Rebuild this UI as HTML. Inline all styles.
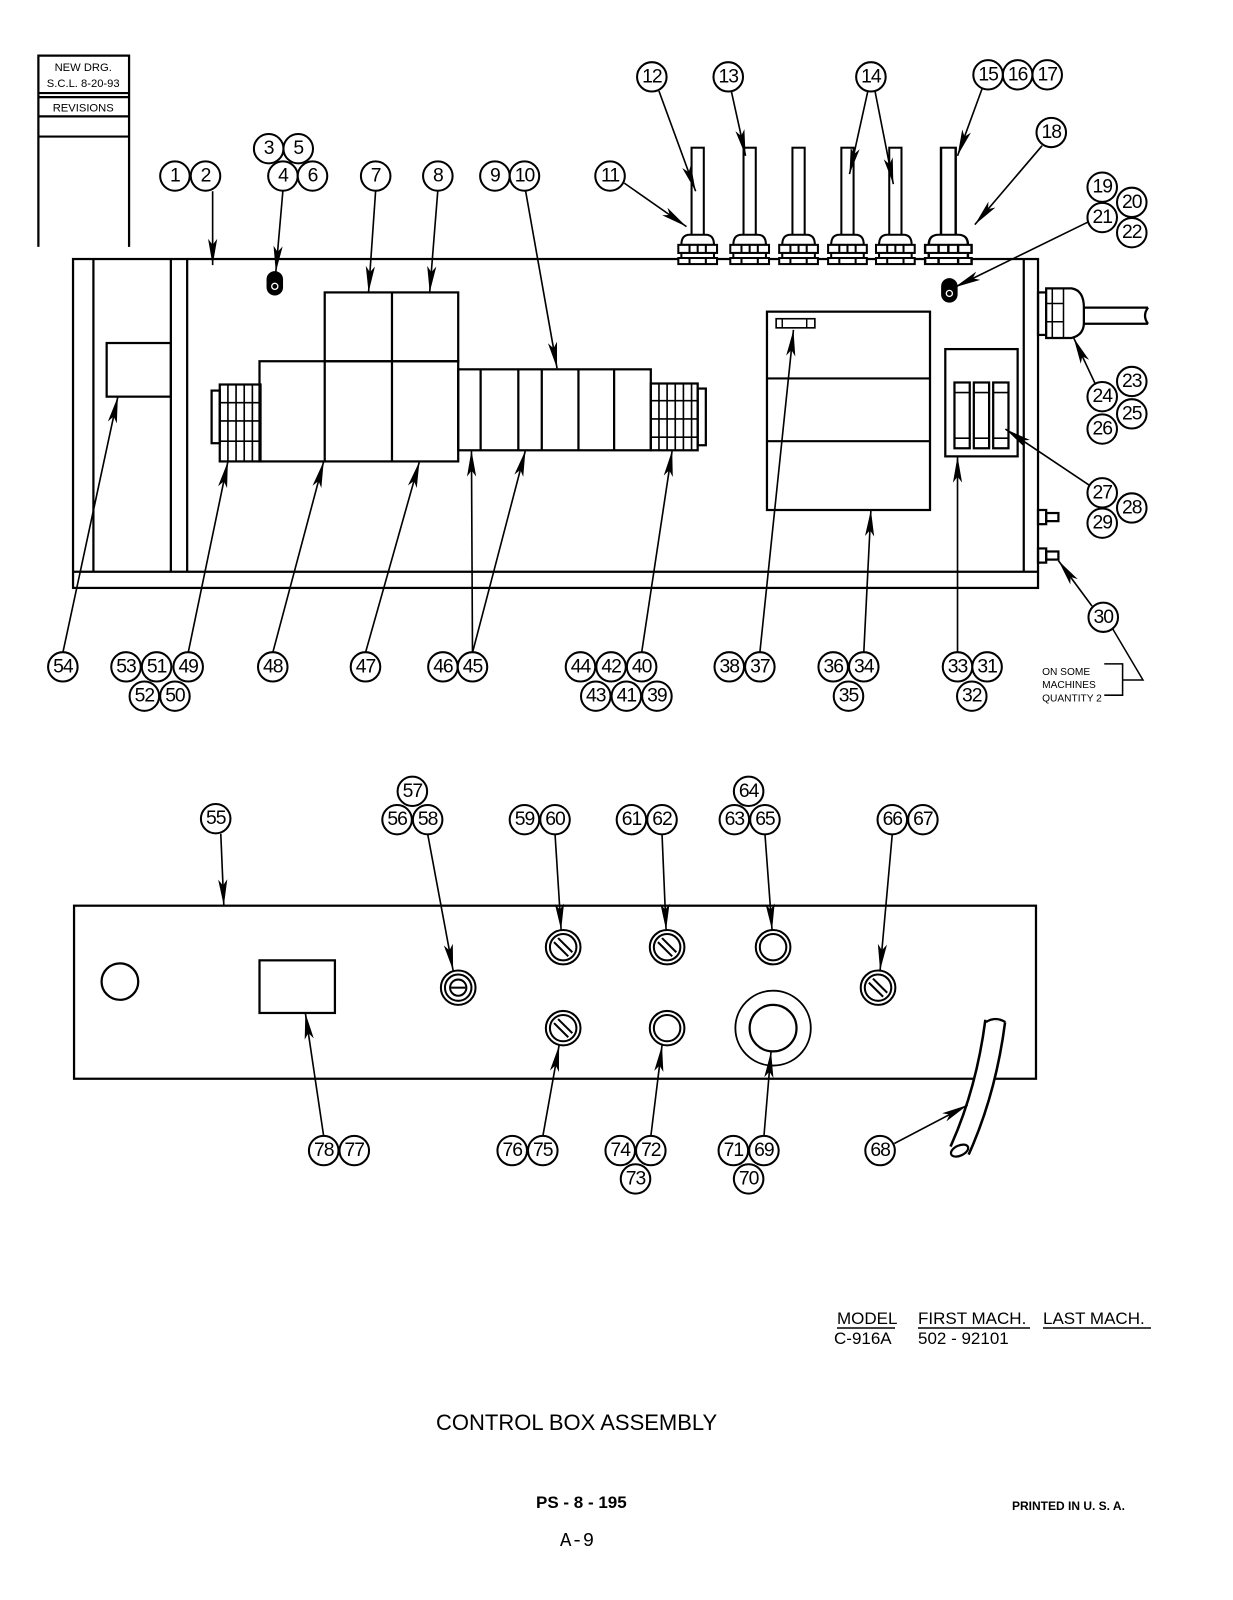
<!DOCTYPE html>
<html><head><meta charset="utf-8"><style>
html,body{margin:0;padding:0;background:#fff}
svg{display:block}
.b circle{fill:#fff;stroke:#000;stroke-width:2}
.b text,.t{font-family:"Liberation Sans",sans-serif;fill:#000}
.b text{font-size:19px;text-anchor:middle;dominant-baseline:central;letter-spacing:-1px}
</style></head><body>
<svg width="1233" height="1600" viewBox="0 0 1233 1600" xmlns="http://www.w3.org/2000/svg">
<defs>
<marker id="a" viewBox="0 -5 26 10" refX="26" refY="0" markerWidth="26" markerHeight="10" markerUnits="userSpaceOnUse" orient="auto">
<path d="M0,-4.5 L26,0 L0,4.5 L6,0 z" fill="#000"/></marker>
<g id="gl" fill="#fff" stroke="#000" stroke-width="2">
<rect x="-6" y="-108" width="12" height="94"/>
<path d="M-16,-12 Q-16,-22 -8,-22 L8,-22 Q16,-22 16,-12 z"/>
<rect x="-19" y="-12" width="38" height="8"/>
<line x1="-8" y1="-12" x2="-8" y2="-4"/><line x1="0" y1="-12" x2="0" y2="-4"/><line x1="8" y1="-12" x2="8" y2="-4"/>
<rect x="-16" y="-4" width="32" height="5"/>
<rect x="-19" y="1" width="38" height="6"/>
<line x1="-8" y1="1" x2="-8" y2="7"/><line x1="8" y1="1" x2="8" y2="7"/>
</g>
<g id="sk"><circle r="17" fill="#fff" stroke="#000" stroke-width="2"/><circle r="13" fill="#fff" stroke="#000" stroke-width="2"/>
<line x1="-9" y1="-5" x2="5" y2="9" stroke="#000" stroke-width="2"/><line x1="-5" y1="-9" x2="9" y2="5" stroke="#000" stroke-width="2"/></g>
<g id="pl"><circle r="17" fill="#fff" stroke="#000" stroke-width="2"/><circle r="13" fill="#fff" stroke="#000" stroke-width="2"/></g>
</defs>

<g transform="translate(1.7,4) scale(1.019,1.012)" fill="none" stroke="#000" stroke-width="2.2">
<path d="M36,240 V51 H125 V240 M36,88 H125 M36,92 H125 M36,111 H125 M36,131 H125"/>
<text class="t" x="80" y="66" font-size="11" text-anchor="middle" stroke="none">NEW DRG.</text>
<text class="t" x="80" y="82" font-size="11" text-anchor="middle" stroke="none">S.C.L. 8-20-93</text>
<text class="t" x="80" y="106" font-size="11" text-anchor="middle" stroke="none">REVISIONS</text>

<rect x="70" y="252" width="947" height="325"/>
<line x1="70" y1="561" x2="1017" y2="561"/>
<line x1="90" y1="252" x2="90" y2="561"/>
<line x1="166" y1="252" x2="166" y2="561"/>
<line x1="182" y1="252" x2="182" y2="561"/>
<line x1="1003" y1="252" x2="1003" y2="561"/>
<rect x="103" y="335" width="63" height="53"/>
<rect x="261" y="265" width="14" height="22" rx="7" fill="#000"/><circle cx="268" cy="279" r="3" stroke="#fff" stroke-width="1.3"/>
<rect x="923" y="272" width="14" height="22" rx="7" fill="#000"/><circle cx="930" cy="286" r="3" stroke="#fff" stroke-width="1.3"/>
<rect x="206" y="382" width="8" height="52"/>
<rect x="214" y="376" width="40" height="76"/>
<path d="M222,376V452M230,376V452M238,376V452M246,376V452M214,394H254M214,412H254M214,432H254" stroke-width="1.6"/>
<rect x="253" y="353" width="195" height="99"/>
<rect x="317" y="285" width="131" height="68"/>
<path d="M317,353V452M383,285V452"/>
<rect x="448" y="361" width="189" height="80"/>
<path d="M470,361V441M507,361V441M530,361V441M566,361V441M601,361V441"/>
<rect x="637" y="375" width="46" height="66"/>
<rect x="683" y="380" width="8" height="56"/>
<path d="M645,375V441M653,375V441M661,375V441M669,375V441M677,375V441M637,392H683M637,410H683M637,428H683" stroke-width="1.6"/>
<rect x="751" y="304" width="160" height="196"/>
<path d="M751,370H911M751,432H911"/>
<rect x="760" y="311" width="38" height="9" stroke-width="1.6"/>
<path d="M766,311V320M790,311V320" stroke-width="1.4"/>
<rect x="926" y="341" width="71" height="106"/>
<rect x="935" y="374" width="15" height="65"/><rect x="954" y="374" width="15" height="65"/><rect x="973" y="374" width="15" height="65"/>
<path d="M935,384H950M954,384H969M973,384H988M935,429H950M954,429H969M973,429H988" stroke-width="1.6"/>
<rect x="1017" y="285" width="8" height="42"/>
<path d="M1025,281 H1050 Q1062,283 1062,300 V315 Q1062,327 1050,330 H1025 z" fill="#fff"/>
<path d="M1031,281V330M1042,281V330M1025,296H1042M1025,314H1042" stroke-width="1.5"/>
<path d="M1062,300 H1125 M1062,316 H1125 M1125,300 Q1119,308 1125,316" />
<rect x="1017" y="500" width="8" height="14"/><rect x="1025" y="503" width="12" height="8"/>
<rect x="1017" y="538" width="8" height="14"/><rect x="1025" y="541" width="12" height="8"/>
<path d="M1082,652 H1100 V683 H1082 M1100,668 H1120 L1090,617" stroke-width="1.5"/>
<text class="t" x="1021" y="663" font-size="10" stroke="none">ON SOME</text>
<text class="t" x="1021" y="676" font-size="10" stroke="none">MACHINES</text>
<text class="t" x="1021" y="689" font-size="10" stroke="none">QUANTITY  2</text>

<rect x="71" y="891" width="944" height="171"/>
<circle cx="116" cy="966" r="18"/>
<rect x="253" y="945" width="74" height="52"/>
<path d="M975,1005 Q966,1075 940,1133" stroke-width="22" stroke-linecap="butt"/>
<path d="M975,1005 Q966,1075 940,1133" stroke="#fff" stroke-width="17" stroke-linecap="butt"/>
<ellipse cx="940" cy="1133" rx="9" ry="5" transform="rotate(-25 940 1133)" fill="#fff"/>
<path d="M966,1006 Q975,1000 985,1006" />
<circle cx="757" cy="1012" r="37" stroke-width="1.8"/>
<circle cx="757" cy="1012" r="23"/>
</g>

<g transform="translate(1.7,4) scale(1.019,1.012)">
<use href="#gl" x="683" y="250"/><use href="#gl" x="734" y="250"/><use href="#gl" x="782" y="250"/>
<use href="#gl" x="830" y="250"/><use href="#gl" x="877" y="250"/>
<g transform="translate(929,250) scale(1.2,1)"><use href="#gl"/></g>
<g fill="#fff" stroke="#000" stroke-width="2"><circle cx="448" cy="972" r="17"/><circle cx="448" cy="972" r="13"/><circle cx="448" cy="972" r="8"/></g>
<line x1="441" y1="972" x2="455" y2="972" stroke="#000" stroke-width="2"/>
<use href="#sk" x="551" y="932"/><use href="#sk" x="653" y="932"/><use href="#pl" x="757" y="932"/>
<use href="#sk" x="860" y="972"/><use href="#sk" x="551" y="1012"/><use href="#pl" x="653" y="1012"/>

<g stroke="#000" stroke-width="1.6" fill="none" marker-end="url(#a)">
<path d="M645,86 L681,185"/><path d="M716,86 L730,150"/>
<path d="M850,86 L832,168"/><path d="M857,86 L875,178"/>
<path d="M962,84 L938,150"/><path d="M1021,140 L955,218"/><path d="M611,177 L672,220"/>
<path d="M207,185 L207,258"/><path d="M276,184 L269,265"/>
<path d="M367,184 L360,285"/><path d="M428,184 L420,285"/><path d="M514,184 L545,360"/>
<path d="M1067,215 L935,280"/><path d="M1073,375 L1052,330"/>
<path d="M1068,476 L985,420"/><path d="M1070,595 L1037,550"/>
<path d="M60,641 L114,388"/><path d="M183,641 L222,452"/><path d="M266,641 L316,452"/>
<path d="M357,641 L410,452"/><path d="M462,641 L461,441"/><path d="M462,641 L514,441"/>
<path d="M628,641 L658,441"/><path d="M744,641 L777,322"/><path d="M846,641 L853,500"/>
<path d="M938,641 L938,447"/>
<path d="M215,820 L218,891"/><path d="M418,820 L443,955"/><path d="M543,820 L549,915"/>
<path d="M648,820 L652,915"/><path d="M749,820 L756,915"/><path d="M874,820 L862,955"/>
<path d="M316,1119 L298,997"/><path d="M531,1119 L547,1029"/><path d="M637,1119 L648,1029"/>
<path d="M748,1119 L755,1035"/><path d="M876,1126 L948,1088"/>
</g>

<g class="b">
<g transform="translate(638,72)"><circle r="14.5"/><text>12</text></g>
<g transform="translate(713,72)"><circle r="14.5"/><text>13</text></g>
<g transform="translate(853,72)"><circle r="14.5"/><text>14</text></g>
<g transform="translate(968,70)"><circle r="14.5"/><text>15</text></g>
<g transform="translate(997,70)"><circle r="14.5"/><text>16</text></g>
<g transform="translate(1026,70)"><circle r="14.5"/><text>17</text></g>
<g transform="translate(1030,127)"><circle r="14.5"/><text>18</text></g>
<g transform="translate(597,170)"><circle r="14.5"/><text>11</text></g>
<g transform="translate(170,170)"><circle r="14.5"/><text>1</text></g>
<g transform="translate(200,170)"><circle r="14.5"/><text>2</text></g>
<g transform="translate(262,143)"><circle r="14.5"/><text>3</text></g>
<g transform="translate(291,143)"><circle r="14.5"/><text>5</text></g>
<g transform="translate(276,170)"><circle r="14.5"/><text>4</text></g>
<g transform="translate(305,170)"><circle r="14.5"/><text>6</text></g>
<g transform="translate(367,170)"><circle r="14.5"/><text>7</text></g>
<g transform="translate(428,170)"><circle r="14.5"/><text>8</text></g>
<g transform="translate(484,170)"><circle r="14.5"/><text>9</text></g>
<g transform="translate(513,170)"><circle r="14.5"/><text>10</text></g>
<g transform="translate(1080,181)"><circle r="14.5"/><text>19</text></g>
<g transform="translate(1109,196)"><circle r="14.5"/><text>20</text></g>
<g transform="translate(1080,211)"><circle r="14.5"/><text>21</text></g>
<g transform="translate(1109,226)"><circle r="14.5"/><text>22</text></g>
<g transform="translate(1109,373)"><circle r="14.5"/><text>23</text></g>
<g transform="translate(1080,388)"><circle r="14.5"/><text>24</text></g>
<g transform="translate(1109,405)"><circle r="14.5"/><text>25</text></g>
<g transform="translate(1080,420)"><circle r="14.5"/><text>26</text></g>
<g transform="translate(1080,483)"><circle r="14.5"/><text>27</text></g>
<g transform="translate(1109,498)"><circle r="14.5"/><text>28</text></g>
<g transform="translate(1080,513)"><circle r="14.5"/><text>29</text></g>
<g transform="translate(1081,606)"><circle r="14.5"/><text>30</text></g>
<g transform="translate(60,655)"><circle r="14.5"/><text>54</text></g>
<g transform="translate(122,655)"><circle r="14.5"/><text>53</text></g>
<g transform="translate(152,655)"><circle r="14.5"/><text>51</text></g>
<g transform="translate(183,655)"><circle r="14.5"/><text>49</text></g>
<g transform="translate(140,684)"><circle r="14.5"/><text>52</text></g>
<g transform="translate(170,684)"><circle r="14.5"/><text>50</text></g>
<g transform="translate(266,655)"><circle r="14.5"/><text>48</text></g>
<g transform="translate(357,655)"><circle r="14.5"/><text>47</text></g>
<g transform="translate(433,655)"><circle r="14.5"/><text>46</text></g>
<g transform="translate(462,655)"><circle r="14.5"/><text>45</text></g>
<g transform="translate(568,655)"><circle r="14.5"/><text>44</text></g>
<g transform="translate(598,655)"><circle r="14.5"/><text>42</text></g>
<g transform="translate(628,655)"><circle r="14.5"/><text>40</text></g>
<g transform="translate(583,684)"><circle r="14.5"/><text>43</text></g>
<g transform="translate(613,684)"><circle r="14.5"/><text>41</text></g>
<g transform="translate(643,684)"><circle r="14.5"/><text>39</text></g>
<g transform="translate(714,655)"><circle r="14.5"/><text>38</text></g>
<g transform="translate(744,655)"><circle r="14.5"/><text>37</text></g>
<g transform="translate(816,655)"><circle r="14.5"/><text>36</text></g>
<g transform="translate(846,655)"><circle r="14.5"/><text>34</text></g>
<g transform="translate(831,684)"><circle r="14.5"/><text>35</text></g>
<g transform="translate(938,655)"><circle r="14.5"/><text>33</text></g>
<g transform="translate(967,655)"><circle r="14.5"/><text>31</text></g>
<g transform="translate(952,684)"><circle r="14.5"/><text>32</text></g>
<g transform="translate(210,805)"><circle r="14.5"/><text>55</text></g>
<g transform="translate(403,778)"><circle r="14.5"/><text>57</text></g>
<g transform="translate(388,806)"><circle r="14.5"/><text>56</text></g>
<g transform="translate(418,806)"><circle r="14.5"/><text>58</text></g>
<g transform="translate(513,806)"><circle r="14.5"/><text>59</text></g>
<g transform="translate(543,806)"><circle r="14.5"/><text>60</text></g>
<g transform="translate(618,806)"><circle r="14.5"/><text>61</text></g>
<g transform="translate(648,806)"><circle r="14.5"/><text>62</text></g>
<g transform="translate(733,778)"><circle r="14.5"/><text>64</text></g>
<g transform="translate(719,806)"><circle r="14.5"/><text>63</text></g>
<g transform="translate(749,806)"><circle r="14.5"/><text>65</text></g>
<g transform="translate(874,806)"><circle r="14.5"/><text>66</text></g>
<g transform="translate(904,806)"><circle r="14.5"/><text>67</text></g>
<g transform="translate(316,1133)"><circle r="14.5"/><text>78</text></g>
<g transform="translate(346,1133)"><circle r="14.5"/><text>77</text></g>
<g transform="translate(501,1133)"><circle r="14.5"/><text>76</text></g>
<g transform="translate(531,1133)"><circle r="14.5"/><text>75</text></g>
<g transform="translate(607,1133)"><circle r="14.5"/><text>74</text></g>
<g transform="translate(637,1133)"><circle r="14.5"/><text>72</text></g>
<g transform="translate(622,1161)"><circle r="14.5"/><text>73</text></g>
<g transform="translate(718,1133)"><circle r="14.5"/><text>71</text></g>
<g transform="translate(748,1133)"><circle r="14.5"/><text>69</text></g>
<g transform="translate(733,1161)"><circle r="14.5"/><text>70</text></g>
<g transform="translate(862,1133)"><circle r="14.5"/><text>68</text></g>
</g>
</g>

<g class="t" font-size="17">
<text x="837" y="1324" class="t">MODEL</text>
<text x="918" y="1324" class="t">FIRST MACH.</text>
<text x="1043" y="1324" class="t">LAST MACH.</text>
<text x="834" y="1344" class="t">C-916A</text>
<text x="918" y="1344" class="t">502 - 92101</text>
</g>
<path d="M837,1328H895M918,1328H1030M1043,1328H1151" stroke="#000" stroke-width="1.5"/>
<text class="t" x="436" y="1430" font-size="22">CONTROL BOX ASSEMBLY</text>
<text class="t" x="536" y="1508" font-size="17" font-weight="bold">PS - 8 - 195</text>
<text class="t" x="1012" y="1510" font-size="12" font-weight="bold">PRINTED  IN  U. S. A.</text>
<text x="560" y="1546" font-size="19" font-family="Liberation Mono, monospace">A-9</text>
</svg>
</body></html>
